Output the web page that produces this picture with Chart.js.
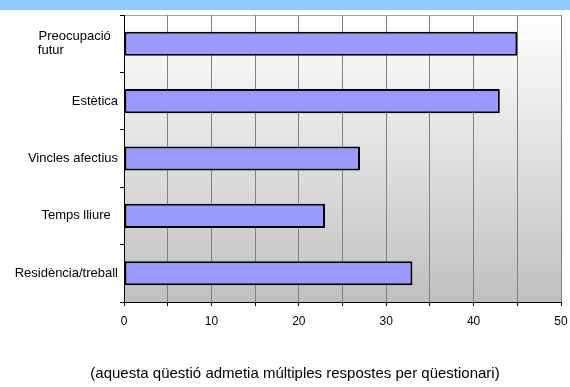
<!DOCTYPE html>
<html>
<head>
<meta charset="utf-8">
<script src="https://cdn.jsdelivr.net/npm/chart.js@4.4.1/dist/chart.umd.min.js"></script>
<style>
    html, body { margin: 0; padding: 0; background: #fff; }
    #wrap { position: relative; width: 570px; height: 387px; overflow: hidden; }
    #band { position: absolute; left: 0; top: 0; width: 570px; height: 10px; background: #90caff; }
    #chart { position: absolute; left: 0; top: 0; }
    #note {
        position: absolute; left: 10px; top: 364px; width: 570px;
        text-align: center; font-family: "Liberation Sans", Arial, sans-serif;
        font-size: 15px; color: #000; white-space: nowrap;
    }
</style>
</head>
<body>
<div id="wrap">
    <div id="band"></div>
    <canvas id="chart" width="570" height="387"></canvas>
    <div id="note">(aquesta qüestió admetia múltiples respostes per qüestionari)</div>
</div>
<script>
(function() {
    'use strict';

    // categories (top to bottom) and values
    var categories = [
        ['Preocupació  ', 'futur               '],
        'Estètica',
        'Vincles afectius',
        'Temps lliure  ',
        'Residència/treball'
    ];
    var values = [45, 43, 27, 23, 33];

    var xMin = 0;
    var xMax = 50;
    var xStep = 5;

    // gradient plot background + gray frame
    var plotBackground = {
        id: 'plotBackground',
        beforeDraw: function(chart) {
            var ctx = chart.ctx;
            var a = chart.chartArea;
            var grad = ctx.createLinearGradient(0, a.top, 0, a.bottom);
            grad.addColorStop(0, '#ffffff');
            grad.addColorStop(1, '#c0c0c0');
            ctx.save();
            ctx.fillStyle = grad;
            ctx.fillRect(a.left, a.top, a.right - a.left, a.bottom - a.top);
            ctx.strokeStyle = '#a6a6a6';
            ctx.lineWidth = 1;
            ctx.beginPath();
            ctx.moveTo(a.left, a.top + 0.5);
            ctx.lineTo(a.right + 0.5, a.top + 0.5);
            ctx.lineTo(a.right + 0.5, a.bottom);
            ctx.stroke();
            ctx.restore();
        }
    };

    var ctx = document.getElementById('chart').getContext('2d');
    new Chart(ctx, {
        type: 'bar',
        data: {
            labels: categories,
            datasets: [{
                data: values,
                backgroundColor: '#9999ff',
                borderColor: '#000000',
                borderWidth: 2,
                borderSkipped: false,
                barPercentage: 0.42,
                categoryPercentage: 1
            }]
        },
        options: {
            indexAxis: 'y',
            responsive: false,
            animation: false,
            devicePixelRatio: 1,
            layout: {
                padding: { top: 15, right: 9, left: 0, bottom: 0 }
            },
            plugins: {
                legend: { display: false },
                tooltip: { enabled: false }
            },
            scales: {
                x: {
                    min: xMin,
                    max: xMax,
                    afterFit: function(scale) {
                        scale.height = 85;
                        scale.paddingLeft = 0;
                        scale.paddingRight = 0;
                    },
                    grid: {
                        color: '#808080',
                        lineWidth: 1,
                        drawTicks: true,
                        tickLength: 4,
                        tickColor: '#000000'
                    },
                    border: { color: '#000000', width: 1 },
                    ticks: {
                        stepSize: xStep,
                        autoSkip: false,
                        maxRotation: 0,
                        padding: 8,
                        color: '#000000',
                        font: { family: '"Liberation Sans", Arial, sans-serif', size: 12 },
                        callback: function(value) {
                            return value % 10 === 0 ? value : '';
                        }
                    }
                },
                y: {
                    afterFit: function(scale) {
                        scale.width = 124;
                        scale.paddingTop = 0;
                        scale.paddingBottom = 0;
                    },
                    grid: {
                        drawOnChartArea: false,
                        drawTicks: true,
                        tickLength: 4,
                        tickColor: '#000000'
                    },
                    border: { color: '#000000', width: 1 },
                    ticks: {
                        padding: 2,
                        color: '#000000',
                        font: { family: '"Liberation Sans", Arial, sans-serif', size: 13, lineHeight: 1.1 }
                    }
                }
            }
        },
        plugins: [plotBackground]
    });
})();
</script>
</body>
</html>
